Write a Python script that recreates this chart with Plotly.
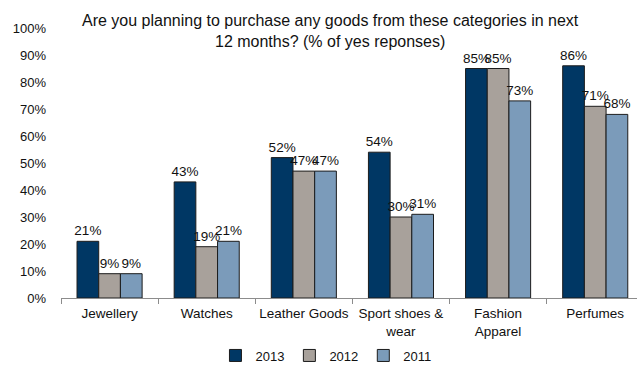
import plotly.graph_objects as go

categories = ["Jewellery", "Watches", "Leather Goods", "Sport shoes &<br>wear",
              "Fashion<br>Apparel", "Perfumes"]
years = ["2013", "2012", "2011"]
values_2013 = [21, 43, 52, 54, 85, 86]
values_2012 = [9, 19, 47, 30, 85, 71]
values_2011 = [9, 21, 47, 31, 73, 68]
series = [values_2013, values_2012, values_2011]
colors = ["#003764", "#A8A19B", "#7B9BBA"]

y_ticks = list(range(0, 101, 10))

fig = go.Figure()
for name, vals, col in zip(years, series, colors):
    fig.add_trace(go.Bar(
        name=name,
        x=categories,
        y=vals,
        marker=dict(color=col, line=dict(color="#1c1c1c", width=1)),
        text=[f"{v}%" for v in vals],
        textposition="outside",
        constraintext="none",
        cliponaxis=False,
        textfont=dict(family="Liberation Sans, Arial", size=13.5, color="#111111"),
    ))

fig.update_layout(
    width=637, height=366,
    margin=dict(l=61, r=0, t=28, b=68, autoexpand=False),
    paper_bgcolor="white", plot_bgcolor="white",
    barmode="group", bargap=0.33, bargroupgap=0,
    font=dict(family="Liberation Sans, Arial", size=13, color="#111111"),
    showlegend=True,
    legend=dict(orientation="h", x=0.46, xanchor="center", y=-0.213, yanchor="middle",
                font=dict(size=13), itemwidth=30, tracegroupgap=0),
    annotations=[dict(
        text="Are you planning to purchase any goods from these categories in next<br>"
             "12 months? (% of yes reponses)",
        xref="paper", yref="paper", x=0.468, y=0.989, xanchor="center", yanchor="middle",
        showarrow=False, font=dict(size=16, color="#111111"), align="center",
    )],
)
fig.update_xaxes(
    range=[-0.5, 5.43], showline=True, linecolor="#8c8c8c", linewidth=1,
    ticks="outside", tickson="boundaries", ticklen=5, tickcolor="#8c8c8c",
    showgrid=False, tickfont=dict(size=13.5), tickangle=0, ticklabelstandoff=3,
    automargin=False,
)
fig.update_yaxes(
    range=[0, 100], tickvals=y_ticks, ticktext=[f"{t}%" for t in y_ticks],
    showline=False, showgrid=False, zeroline=False, ticks="", ticklabelstandoff=14,
    tickfont=dict(size=13), automargin=False,
)

fig.write_html("out.html")
